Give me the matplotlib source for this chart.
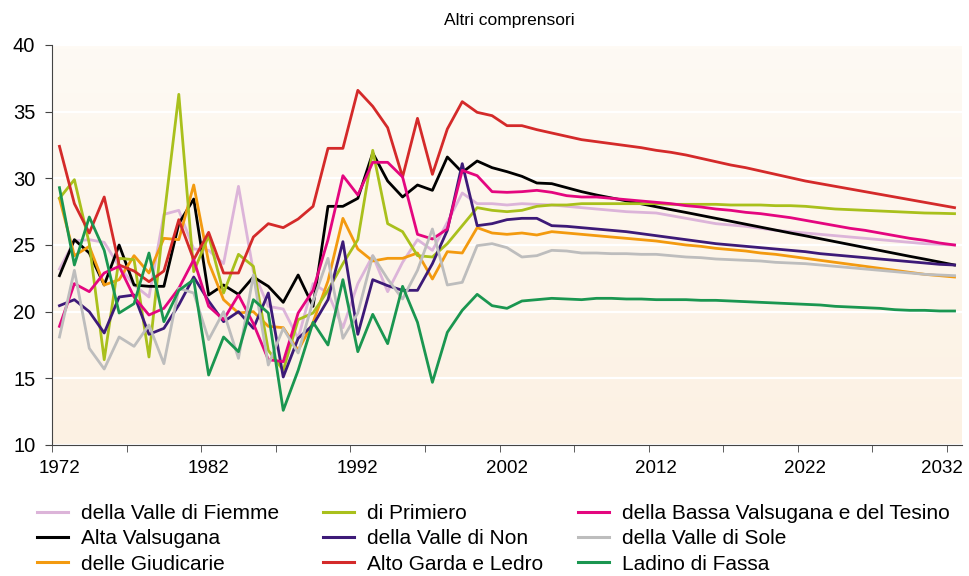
import numpy as np
import matplotlib.pyplot as plt
from matplotlib.colors import to_rgb
from matplotlib.transforms import ScaledTranslation

plt.rcParams['font.family'] = ['Liberation Sans', 'DejaVu Sans']

years = list(range(1972, 2033))

# valori (1972-2032)
fiemme = [23.2, 25.3, 25.4, 25.2, 23.4, 22.0, 21.1, 27.3, 27.6, 24.7,
          24.6, 23.6, 29.4, 23.0, 20.4, 20.2, 18.0, 22.1, 21.4, 18.8,
          22.1, 24.2, 21.5, 23.7, 25.4, 24.6, 26.7, 28.9, 28.1, 28.1,
          28.0, 28.1, 28.05, 28.0, 27.9, 27.8, 27.7, 27.6, 27.5, 27.45,
          27.4, 27.2, 27.0, 26.8, 26.6, 26.5, 26.4, 26.25, 26.1, 26.0,
          25.9, 25.8, 25.7, 25.6, 25.5, 25.4, 25.3, 25.2, 25.1, 25.05,
          25.0]
alta_valsugana = [22.7, 25.4, 24.4, 22.0, 25.0, 22.0, 21.9, 21.9, 26.6, 28.45,
                  21.25, 22.0, 21.3, 22.6, 21.9, 20.7, 22.75, 20.4, 27.9, 27.9,
                  28.5, 31.9, 29.8, 28.6, 29.5, 29.1, 31.6, 30.45, 31.3, 30.8,
                  30.5, 30.15, 29.65, 29.6, 29.3, 29.0, 28.75, 28.53, 28.31, 28.09,
                  27.87, 27.65, 27.44, 27.22, 27.0, 26.78, 26.56, 26.34, 26.12, 25.9,
                  25.69, 25.47, 25.25, 25.03, 24.81, 24.59, 24.37, 24.15, 23.94, 23.72,
                  23.5]
giudicarie = [28.5, 24.2, 24.9, 22.0, 22.4, 24.2, 22.9, 25.5, 25.4, 29.5,
              23.7, 20.9, 19.9, 20.0, 18.9, 18.8, 17.1, 19.2, 22.3, 27.0,
              24.7, 23.8, 24.0, 24.0, 24.4, 22.45, 24.5, 24.4, 26.3, 25.9,
              25.8, 25.9, 25.75, 26.0, 25.9, 25.8, 25.7, 25.6, 25.5, 25.4,
              25.3, 25.15, 25.0, 24.9, 24.75, 24.65, 24.55, 24.4, 24.3, 24.15,
              24.0, 23.85, 23.7, 23.55, 23.4, 23.25, 23.1, 22.95, 22.8, 22.7,
              22.6]
primiero = [28.5, 29.9, 25.1, 16.4, 24.0, 23.9, 16.6, 27.0, 36.3, 23.0,
            25.7, 21.4, 24.3, 23.4, 17.1, 15.6, 19.4, 19.9, 21.6, 23.6,
            25.4, 32.1, 26.6, 26.0, 24.2, 24.1, 25.1, 26.45, 27.8, 27.6,
            27.5, 27.6, 27.9, 28.0, 28.0, 28.1, 28.1, 28.1, 28.1, 28.1,
            28.1, 28.05, 28.05, 28.05, 28.05, 28.0, 28.0, 28.0, 27.95, 27.95,
            27.9, 27.8, 27.7, 27.65, 27.6, 27.55, 27.5, 27.45, 27.4, 27.38,
            27.35]
valle_non = [20.45, 20.9, 20.0, 18.4, 21.1, 21.25, 18.3, 18.75, 20.5, 22.6,
             20.8, 19.25, 20.0, 18.75, 21.4, 15.1, 18.0, 19.0, 20.9, 25.25,
             18.3, 22.4, 21.95, 21.6, 21.6, 23.6, 26.1, 31.1, 26.45, 26.6,
             26.9, 27.0, 27.0, 26.45, 26.4, 26.3, 26.2, 26.1, 26.0, 25.85,
             25.7, 25.55, 25.4, 25.25, 25.1, 25.0, 24.9, 24.8, 24.7, 24.6,
             24.5, 24.35, 24.25, 24.15, 24.05, 23.95, 23.85, 23.75, 23.65, 23.55,
             23.5]
alto_garda = [32.4, 28.1, 25.9, 28.6, 23.5, 23.05, 22.25, 23.05, 26.9, 23.9,
              25.95, 22.9, 22.9, 25.6, 26.6, 26.3, 26.95, 27.9, 32.25, 32.25,
              36.6, 35.4, 33.8, 30.1, 34.5, 30.3, 33.7, 35.75, 34.95, 34.7,
              33.95, 33.95, 33.65, 33.4, 33.15, 32.9, 32.75, 32.6, 32.45, 32.3,
              32.1, 31.95, 31.75, 31.5, 31.25, 31.0, 30.8, 30.55, 30.3, 30.05,
              29.8, 29.6, 29.4, 29.2, 29.0, 28.8, 28.6, 28.4, 28.2, 28.0,
              27.8]
bassa_valsugana = [18.9, 22.1, 21.5, 22.9, 23.4, 21.1, 19.75, 20.25, 21.75, 23.9,
                   20.4, 19.4, 21.25, 19.1, 16.4, 16.25, 19.9, 21.6, 25.4, 30.2,
                   28.75, 31.2, 31.2, 30.1, 25.8, 25.45, 26.2, 30.6, 30.2, 29.0,
                   28.95, 29.0, 29.1, 28.95, 28.7, 28.6, 28.6, 28.5, 28.4, 28.3,
                   28.2, 28.1, 27.95, 27.85, 27.7, 27.6, 27.45, 27.35, 27.2, 27.05,
                   26.85, 26.65, 26.45, 26.25, 26.1, 25.9, 25.7, 25.5, 25.35, 25.15,
                   25.0]
valle_sole = [18.1, 23.1, 17.25, 15.7, 18.1, 17.4, 19.0, 16.1, 21.75, 21.4,
              17.9, 20.0, 16.5, 22.75, 16.0, 18.75, 16.9, 20.8, 24.0, 18.0,
              19.9, 24.2, 22.45, 20.95, 23.1, 26.2, 22.0, 22.2, 24.95, 25.1,
              24.8, 24.1, 24.2, 24.6, 24.55, 24.4, 24.4, 24.35, 24.35, 24.3,
              24.3, 24.2, 24.1, 24.05, 23.95, 23.9, 23.85, 23.8, 23.7, 23.65,
              23.6, 23.5, 23.4, 23.3, 23.2, 23.1, 23.0, 22.9, 22.8, 22.75,
              22.7]
fassa = [29.3, 23.5, 27.1, 24.6, 19.9, 20.6, 24.4, 19.25, 21.6, 22.4,
         15.25, 18.1, 17.0, 20.9, 19.9, 12.6, 15.6, 19.2, 17.5, 22.4,
         17.0, 19.8, 17.6, 21.9, 19.2, 14.7, 18.45, 20.1, 21.3, 20.45,
         20.25, 20.8, 20.9, 21.0, 20.95, 20.9, 21.0, 21.0, 20.95, 20.95,
         20.9, 20.9, 20.9, 20.85, 20.85, 20.8, 20.75, 20.7, 20.65, 20.6,
         20.55, 20.5, 20.4, 20.35, 20.3, 20.25, 20.15, 20.1, 20.1, 20.05,
         20.05]

series = [
    ("della Valle di Fiemme", fiemme, "#dcb4d9"),
    ("Alta Valsugana", alta_valsugana, "#000000"),
    ("delle Giudicarie", giudicarie, "#f39a0f"),
    ("di Primiero", primiero, "#a9c01c"),
    ("della Valle di Non", valle_non, "#3d1a78"),
    ("Alto Garda e Ledro", alto_garda, "#d42a2a"),
    ("della Bassa Valsugana e del Tesino", bassa_valsugana, "#e4067f"),
    ("della Valle di Sole", valle_sole, "#bdbdbd"),
    ("Ladino di Fassa", fassa, "#1a9650"),
]

fig = plt.figure(figsize=(9.7, 5.76), dpi=100)
ax = fig.add_axes([52/970, 1-445/576, 910/970, 400/576])

# sfondo sfumato
top = np.array(to_rgb("#fefaf4"))
bot = np.array(to_rgb("#fcf1e3"))
grad = np.linspace(0, 1, 100)[:, None, None] * (bot - top) + top
ax.imshow(grad, extent=[0, 1, 0, 1], transform=ax.transAxes, aspect='auto', zorder=0)

handles = []
for name, vals, col in series:
    h, = ax.plot(years, vals, color=col, lw=2.0, label=name, zorder=3)
    handles.append(h)

ax.set_xlim(1971.5, 2032.5)
ax.set_ylim(10, 40)
ax.set_yticks(range(10, 41, 5))
ax.yaxis.grid(True, color='white', lw=1.6, zorder=1)
ax.set_axisbelow(True)

ax.set_xticks(range(1972, 2033, 10))
ax.set_xticks(np.arange(1971.5, 2032, 5), minor=True)
ax.tick_params(axis='x', which='major', length=0, pad=11, labelsize=13.5)
ax.tick_params(axis='x', which='minor', length=5, direction='out', color='#444444')
ax.tick_params(axis='y', length=5, direction='out', pad=7, labelsize=14.5, color='#444444')

# ultima etichetta spostata a sinistra per restare nel riquadro
last = ax.get_xticklabels()[-1]
last.set_horizontalalignment('right')
last.set_transform(last.get_transform() + ScaledTranslation(8/100, 0, fig.dpi_scale_trans))

for s in ['top', 'right']:
    ax.spines[s].set_visible(False)
for s in ['left', 'bottom']:
    ax.spines[s].set_color('#444444')

fig.text(0.525, 0.965, "Altri comprensori", ha='center', va='center', fontsize=12.5)

# legenda su tre colonne
col_x = [37/970, 323/970, 578/970]
for i in range(3):
    leg = fig.legend(handles=handles[3*i:3*i+3], loc='upper left',
                     bbox_to_anchor=(col_x[i], 1-504/576), frameon=False,
                     fontsize=15, handlelength=1.5, handletextpad=0.62,
                     labelspacing=0.3, borderaxespad=0, borderpad=0)
    for line in leg.get_lines():
        line.set_linewidth(2.2)

fig.savefig("out.png", dpi=100)
